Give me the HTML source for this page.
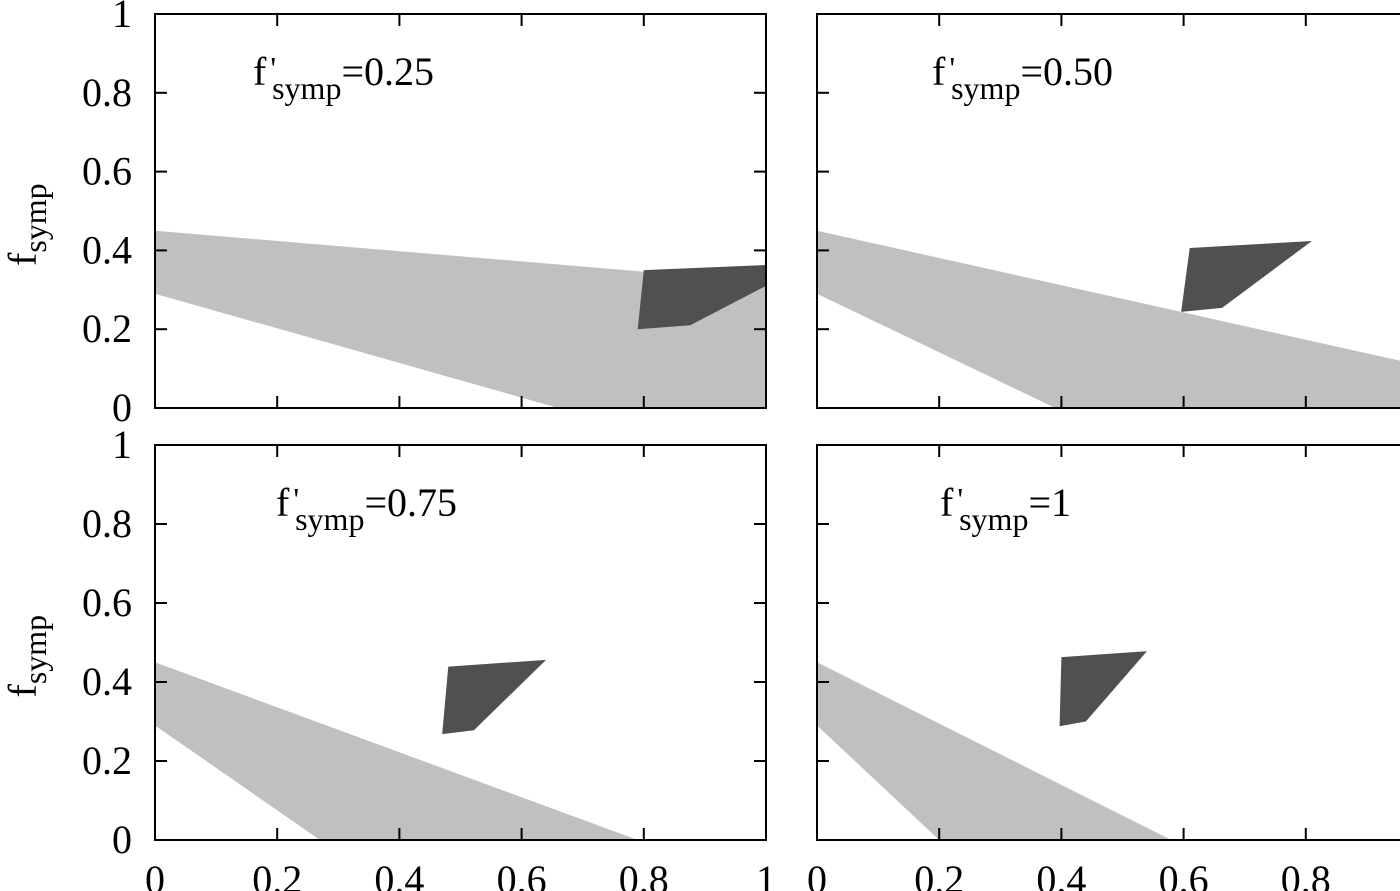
<!DOCTYPE html>
<html><head><meta charset="utf-8"><style>
html,body{margin:0;padding:0;background:#fff;width:1400px;height:891px;overflow:hidden}
text{font-family:"Liberation Serif",serif;fill:#000}
</style></head><body>
<svg id="chart" width="1400" height="891" viewBox="0 0 1400 891" xmlns="http://www.w3.org/2000/svg"></svg>
<script>
const panelTitles = ["0.25", "0.50", "0.75", "1"];
const xTicks = [0, 0.2, 0.4, 0.6, 0.8, 1];
const yTicks = [0, 0.2, 0.4, 0.6, 0.8, 1];
const lightRegionX = [
  [0, 1, 1, 0.66, 0],
  [0, 1.2, 1.2, 0.39, 0],
  [0, 0.79, 0.27, 0],
  [0, 0.58, 0.2, 0]
];
const lightRegionY = [
  [0.45, 0.32, 0, 0, 0.29],
  [0.45, 0.035, 0, 0, 0.29],
  [0.45, 0, 0, 0.29],
  [0.45, 0, 0, 0.29]
];
const darkRegionX = [
  [0.80, 1.0, 1.0, 0.876, 0.79],
  [0.61, 0.81, 0.663, 0.596],
  [0.48, 0.64, 0.522, 0.47],
  [0.40, 0.54, 0.44, 0.397]
];
const darkRegionY = [
  [0.35, 0.363, 0.31, 0.21, 0.20],
  [0.406, 0.424, 0.254, 0.244],
  [0.439, 0.456, 0.278, 0.268],
  [0.463, 0.478, 0.30, 0.288]
];
const svg = document.getElementById('chart');
const NS = "http://www.w3.org/2000/svg";
function mk(tag, attrs, parent) {
  const e = document.createElementNS(NS, tag);
  for (const k in attrs) e.setAttribute(k, attrs[k]);
  (parent || svg).appendChild(e);
  return e;
}
const panels = [
  {x0:155, y0:408, w:611, h:394},
  {x0:817, y0:408, w:611, h:394},
  {x0:155, y0:840, w:611, h:395},
  {x0:817, y0:840, w:611, h:395}
];
const defs = mk('defs', {});
panels.forEach((p, i) => {
  const sx = v => p.x0 + v * p.w;
  const sy = v => p.y0 - v * p.h;
  const g = mk('g', {});
  
  
  const cp = mk('clipPath', {id: 'cp' + i}, defs);
  mk('rect', {x: sx(0), y: sy(1), width: p.w, height: p.h}, cp);
  const lp = lightRegionX[i].map((x, j) => sx(x) + ',' + sy(lightRegionY[i][j])).join(' ');
  const light = mk('polygon', {points: lp, fill: '#c0c0c0', 'clip-path': 'url(#cp' + i + ')'}, g);
  
  
  const dp = darkRegionX[i].map((x, j) => sx(x) + ',' + sy(darkRegionY[i][j])).join(' ');
  const dark = mk('polygon', {points: dp, fill: '#505050', 'clip-path': 'url(#cp' + i + ')'}, g);
  
  
  mk('rect', {x: sx(0), y: sy(1), width: p.w, height: p.h, fill: 'none', stroke: '#000', 'stroke-width': 2}, g);
  xTicks.forEach(t => {
    mk('line', {x1: sx(t), x2: sx(t), y1: sy(0), y2: sy(0) - 12, stroke: '#000', 'stroke-width': 2}, g);
    mk('line', {x1: sx(t), x2: sx(t), y1: sy(1), y2: sy(1) + 12, stroke: '#000', 'stroke-width': 2}, g);
  });
  yTicks.forEach(t => {
    mk('line', {x1: sx(0), x2: sx(0) + 12, y1: sy(t), y2: sy(t), stroke: '#000', 'stroke-width': 2}, g);
    mk('line', {x1: sx(1), x2: sx(1) - 12, y1: sy(t), y2: sy(t), stroke: '#000', 'stroke-width': 2}, g);
  });
  if (i % 2 === 0) {
    yTicks.forEach(t => {
      const tx = mk('text', {x: 132, y: sy(t) + 13, 'font-size': 40, 'text-anchor': 'end'}, g);
      tx.textContent = String(t);
      
      
    });
    const yl = mk('text', {x: 0, y: 0, 'font-size': 40, transform: 'translate(36,' + (sy(0.5) + 55) + ') rotate(-90)'}, g);
    yl.innerHTML = 'f<tspan font-size="32" dy="10">symp</tspan>';
    
    
  }
  if (i >= 2) {
    xTicks.forEach(t => {
      const tx = mk('text', {x: sx(t), y: 893, 'font-size': 40, 'text-anchor': 'middle'}, g);
      tx.textContent = String(t);
      
      
    });
  }
  const tx0 = [253, 932, 276, 940][i];
  const ty = sy(1) + 71;
  const title = mk('text', {x: tx0, y: ty, 'font-size': 40}, g);
  title.innerHTML = "f<tspan dx='4' dy='-6' font-size='32'>'</tspan><tspan dx='-4' dy='20' font-size='32'>symp</tspan><tspan dy='-14'>=" + panelTitles[i] + "</tspan>";
  
  
});
</script>
</body></html>
